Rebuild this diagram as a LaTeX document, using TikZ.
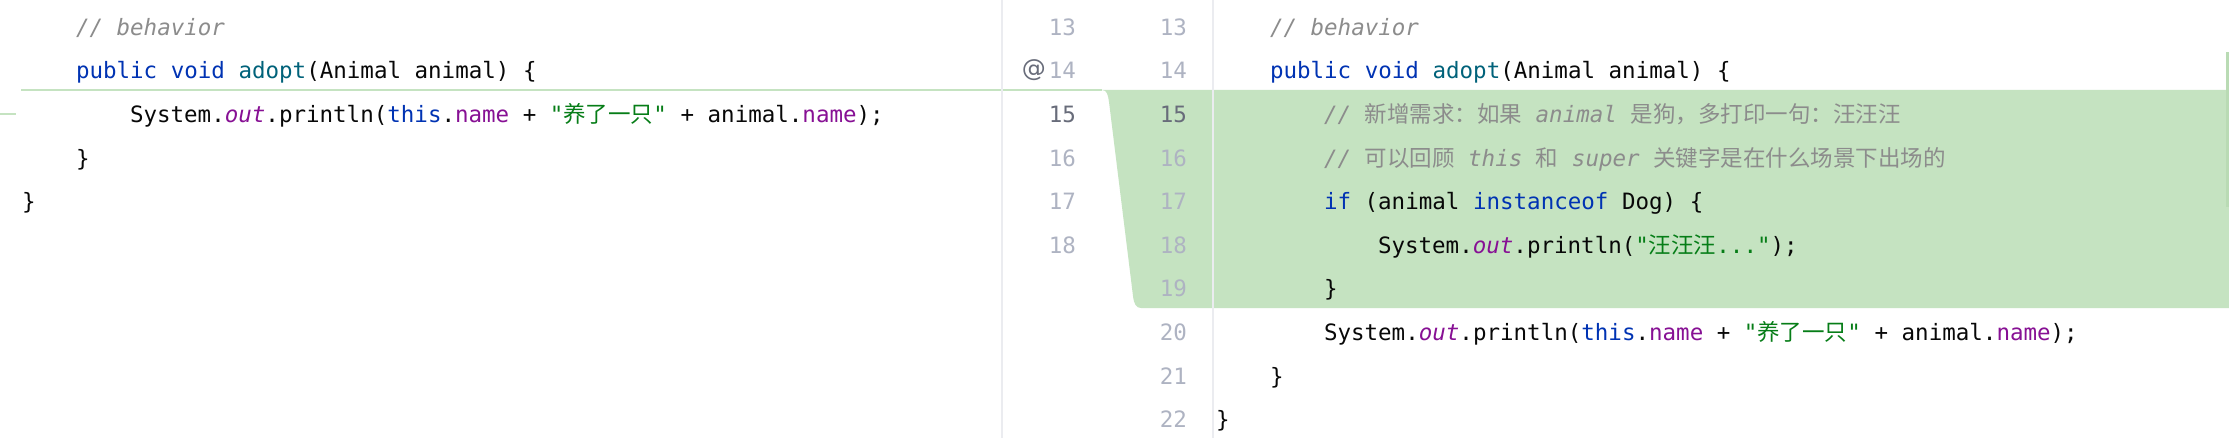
\documentclass[tikz,border=0pt]{standalone}
\usepackage{fontspec}
\setmonofont{DejaVu Sans Mono}[ItalicFont={DejaVu Sans Mono Oblique}]
\newfontfamily\zhfont{Noto Sans CJK SC}
\newfontfamily\iconfont{DejaVu Sans}
\usetikzlibrary{positioning}
\definecolor{kwblue}{HTML}{0033B3}
\definecolor{mthteal}{HTML}{00627A}
\definecolor{fldpurple}{HTML}{871094}
\definecolor{strgreen}{HTML}{067D17}
\definecolor{cmtgray}{HTML}{8C8C8C}
\definecolor{plain}{HTML}{080808}
\definecolor{numgray}{HTML}{AEB3C2}
\definecolor{numdark}{HTML}{686C7A}
\definecolor{addgreen}{HTML}{C5E3C1}
\definecolor{markgreen}{HTML}{B9DBB4}
\definecolor{gridgray}{HTML}{EBECF0}
\newcommand{\kw}[1]{\textcolor{kwblue}{#1}}
\newcommand{\mth}[1]{\textcolor{mthteal}{#1}}
\newcommand{\fld}[1]{\textcolor{fldpurple}{#1}}
\newcommand{\sfld}[1]{\textcolor{fldpurple}{\itshape #1}}
\newcommand{\jstr}[1]{\textcolor{strgreen}{#1}}
\newcommand{\cmt}[1]{\textcolor{cmtgray}{\itshape #1}}
\newcommand{\zh}[1]{{\zhfont\upshape #1}}

\begin{document}
\begin{tikzpicture}[x=1pt,y=-1pt,
    code/.style={anchor=base west,inner sep=0pt,outer sep=0pt,text=plain,
      font=\ttfamily\fontsize{22.5}{27}\selectfont},
    num/.style={anchor=base east,inner sep=0pt,outer sep=0pt,text=numgray,
      font=\ttfamily\fontsize{22.5}{27}\selectfont},
    curnum/.style={num,text=numdark}]
  \useasboundingbox (0,0) rectangle (2229,438);
  \fill[white] (0,0) rectangle (2229,438);
  % inserted block
  \coordinate (TL) at (1102,90);
  \coordinate (BL) at (1141,308);
  \coordinate (TR) at (2229,90);
  \coordinate (BR) at (2229,308);
  \fill[addgreen] (TL) .. controls (1107,90) and (1108,95) .. (1109,102)
    -- (1133,296) .. controls (1134,304) and (1136,308) .. (BL) -- (BR) -- (TR) -- cycle;
  \draw[addgreen,line width=2pt] (21,90) -- (TL);
  \draw[addgreen,line width=2pt] (0,114) -- (16,114);
  \fill[markgreen] (2225.5,52) rectangle (2229,207);
  % gutters
  \draw[gridgray,line width=1.5pt] (1002,0) -- (1002,438);
  \draw[gridgray,line width=1.5pt] (1213,0) -- (1213,438);
  \node[num] (a13) at (1076,35.3) {13};
  \node[num] (a14) at (1076,78.9) {14};
  \node[curnum] (a15) at (1076,122.5) {15};
  \node[num] (a16) at (1076,166.1) {16};
  \node[num] (a17) at (1076,209.7) {17};
  \node[num] (a18) at (1076,253.3) {18};
  \node[anchor=base east,inner sep=0pt,text=numdark,font=\iconfont\fontsize{24}{28}\selectfont] (anno) at (1046,76.5) {@};
  \node[num] (b13) at (1187,35.3) {13};
  \node[num] (b14) at (1187,78.9) {14};
  \node[curnum] (b15) at (1187,122.5) {15};
  \node[num] (b16) at (1187,166.1) {16};
  \node[num] (b17) at (1187,209.7) {17};
  \node[num] (b18) at (1187,253.3) {18};
  \node[num] (b19) at (1187,296.9) {19};
  \node[num] (b20) at (1187,340.5) {20};
  \node[num] (b21) at (1187,384.1) {21};
  \node[num] (b22) at (1187,427.7) {22};
  % old version
  \node[code] (l13) at (76,35.3) {\cmt{// behavior}};
  \node[code] (l14) at (76,78.9) {\kw{public void} \mth{adopt}(Animal animal) \{};
  \node[code] (l15) at (130,122.5) {System.\sfld{out}.println(\kw{this}.\fld{name} + \jstr{"\zh{养了一只}"} + animal.\fld{name});};
  \node[code] (l16) at (76,166.1) {\}};
  \node[code] (l17) at (22,209.7) {\}};
  % new version
  \node[code] (r13) at (1270,35.3) {\cmt{// behavior}};
  \node[code] (r14) at (1270,78.9) {\kw{public void} \mth{adopt}(Animal animal) \{};
  \node[code] (r15) at (1324,122.5) {\cmt{// \zh{新增需求：如果} animal \zh{是狗，多打印一句：汪汪汪}}};
  \node[code] (r16) at (1324,166.1) {\cmt{// \zh{可以回顾} this \zh{和} super \zh{关键字是在什么场景下出场的}}};
  \node[code] (r17) at (1324,209.7) {\kw{if} (animal \kw{instanceof} Dog) \{};
  \node[code] (r18) at (1378,253.3) {System.\sfld{out}.println(\jstr{"\zh{汪汪汪}..."});};
  \node[code] (r19) at (1324,296.9) {\}};
  \node[code] (r20) at (1324,340.5) {System.\sfld{out}.println(\kw{this}.\fld{name} + \jstr{"\zh{养了一只}"} + animal.\fld{name});};
  \node[code] (r21) at (1270,384.1) {\}};
  \node[code] (r22) at (1216,427.7) {\}};
\end{tikzpicture}
\end{document}
